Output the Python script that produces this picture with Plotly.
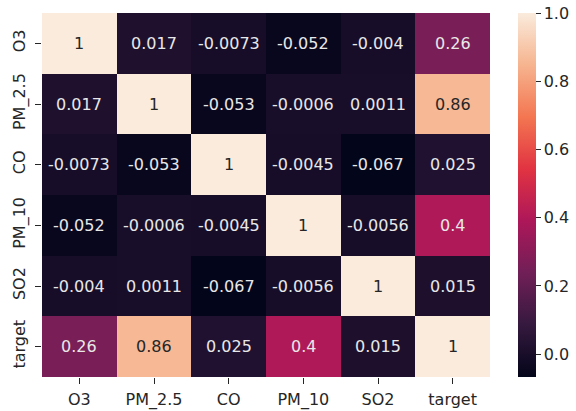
import plotly.graph_objects as go

# Correlation matrix of pollutant readings against the target
labels = ["O3", "PM_2.5", "CO", "PM_10", "SO2", "target"]
corr = [
    [1.0, 0.017, -0.0073, -0.052, -0.004, 0.26],
    [0.017, 1.0, -0.053, -0.0006, 0.0011, 0.86],
    [-0.0073, -0.053, 1.0, -0.0045, -0.067, 0.025],
    [-0.052, -0.0006, -0.0045, 1.0, -0.0056, 0.4],
    [-0.004, 0.0011, -0.067, -0.0056, 1.0, 0.015],
    [0.26, 0.86, 0.025, 0.4, 0.015, 1.0],
]
cbar_ticks = [0.0, 0.2, 0.4, 0.6, 0.8, 1.0]

# "rocket" sequential colormap
rocket = [
    [0.0, "#03051a"],
    [1 / 7, "#35193e"],
    [2 / 7, "#701f57"],
    [3 / 7, "#ad1759"],
    [4 / 7, "#e13342"],
    [5 / 7, "#f37651"],
    [6 / 7, "#f6b48f"],
    [1.0, "#faebdd"],
]

zmin = min(min(r) for r in corr)
zmax = max(max(r) for r in corr)

FONT = "DejaVu Sans"
TXT = "#262626"

fig = go.Figure(
    go.Heatmap(
        z=corr,
        x=labels,
        y=labels,
        zmin=zmin,
        zmax=zmax,
        colorscale=rocket,
        showscale=True,
        hoverinfo="skip",
        colorbar=dict(
            thickness=18,
            len=1.0,
            lenmode="fraction",
            y=0.5,
            yanchor="middle",
            x=1.0625,
            xanchor="left",
            xpad=0,
            ypad=0,
            outlinewidth=0,
            tickmode="array",
            tickvals=cbar_ticks,
            ticktext=[f"{t:.1f}" for t in cbar_ticks],
            ticks="outside",
            ticklen=5,
            tickwidth=1,
            tickcolor=TXT,
            tickfont=dict(family=FONT, size=16, color=TXT),
        ),
    )
)

# Cell annotations, light text on dark cells and dark text on light cells
for i, row in enumerate(corr):
    for j, v in enumerate(row):
        frac = (v - zmin) / (zmax - zmin)
        fig.add_annotation(
            x=labels[j],
            y=labels[i],
            text=f"{v:.2g}",
            showarrow=False,
            font=dict(family=FONT, size=16, color=TXT if frac > 0.6 else "#e8e8e8"),
        )

fig.update_layout(
    width=576,
    height=411,
    margin=dict(l=42, r=86, t=13, b=34, autoexpand=False),
    paper_bgcolor="white",
    plot_bgcolor="white",
    font=dict(family=FONT, size=16, color=TXT),
    xaxis=dict(
        showgrid=False,
        zeroline=False,
        automargin=False,
        ticks="outside",
        ticklen=6,
        tickcolor=TXT,
        ticklabelstandoff=2,
        tickfont=dict(family=FONT, size=16, color=TXT),
    ),
    yaxis=dict(
        showgrid=False,
        zeroline=False,
        automargin=False,
        autorange="reversed",
        ticks="outside",
        ticklen=6,
        tickcolor=TXT,
        tickangle=-90,
        ticklabelstandoff=4,
        tickfont=dict(family=FONT, size=16, color=TXT),
    ),
)

fig.write_html("out.html")
